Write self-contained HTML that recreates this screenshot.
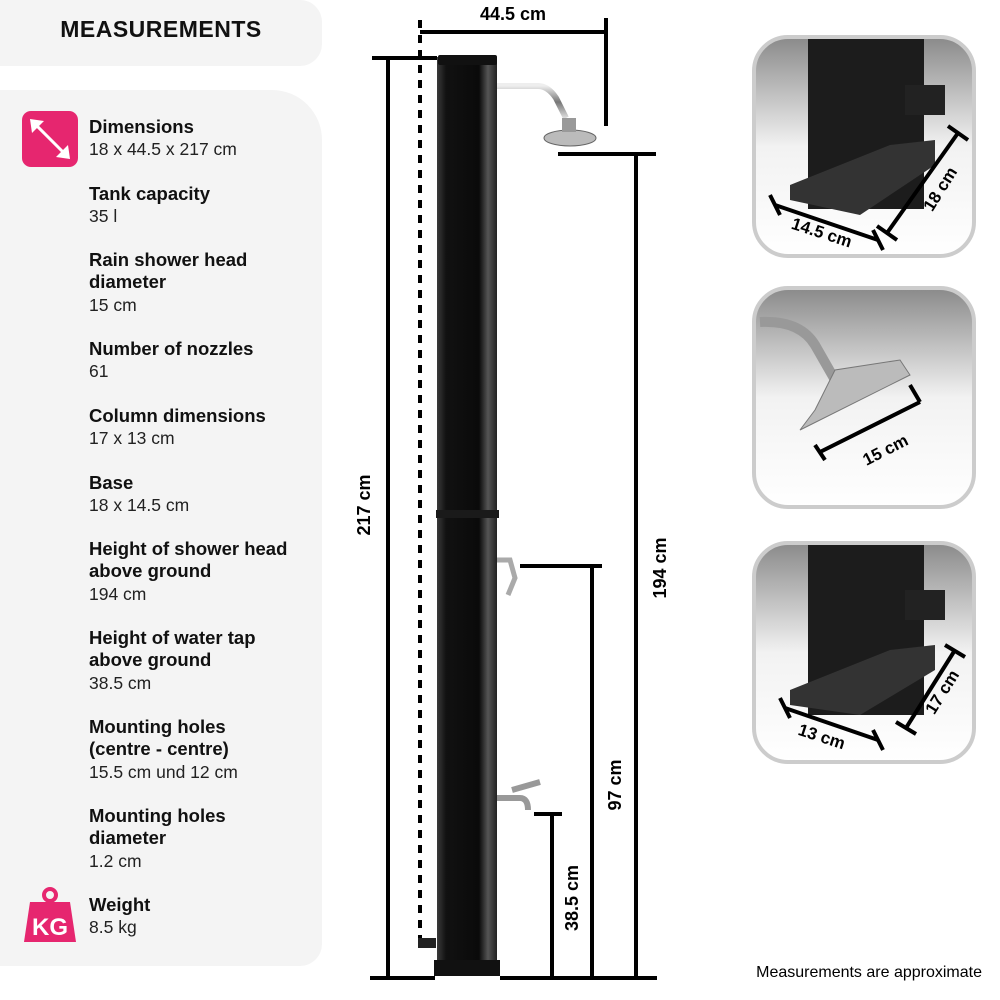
<!DOCTYPE html>
<html><head><meta charset="utf-8"><style>
body{margin:0;width:1000px;height:1000px;background:#fff;position:relative;overflow:hidden;font-family:"Liberation Sans",sans-serif;color:#111}
.it{position:absolute;left:89px;font-size:18px;line-height:22.4px}
.it b{display:block;font-weight:bold;font-size:18.5px}
.it span{display:block;font-size:17.5px;color:#222}
</style></head><body>
<div style="position:absolute;left:0;top:0;width:322px;height:66px;background:#f4f4f4;border-radius:0 22px 22px 0"></div>
<div style="position:absolute;left:0;top:0;width:322px;height:60px;text-align:center;line-height:58px;font-weight:900;font-size:23px;letter-spacing:0.5px">MEASUREMENTS</div>
<div style="position:absolute;left:0;top:90px;width:322px;height:876px;background:#f4f4f4;border-radius:0 50px 22px 0"></div>
<div style="position:absolute;left:22px;top:111px;width:56px;height:56px;background:#e6266f;border-radius:9px"></div>
<svg style="position:absolute;left:22px;top:111px" width="56" height="56"><line x1="12" y1="12" x2="44" y2="44" stroke="#fff" stroke-width="3"/><polygon points="8,8 22,10 10,22" fill="#fff"/><polygon points="48,48 34,46 46,34" fill="#fff"/></svg>
<svg style="position:absolute;left:22px;top:886px" width="56" height="60"><circle cx="28" cy="9" r="6" fill="none" stroke="#e6266f" stroke-width="4"/><path d="M8 16 H48 L54 56 H2 Z" fill="#e6266f"/><text x="28" y="49" text-anchor="middle" font-family="Liberation Sans" font-weight="bold" font-size="24" fill="#fff">KG</text></svg>
<div class="it" style="top:116px"><b>Dimensions</b><span>18 x 44.5 x 217 cm</span></div>
<div class="it" style="top:183px"><b>Tank capacity</b><span>35 l</span></div>
<div class="it" style="top:249px"><b>Rain shower head<br>diameter</b><span>15 cm</span></div>
<div class="it" style="top:338px"><b>Number of nozzles</b><span>61</span></div>
<div class="it" style="top:405px"><b>Column dimensions</b><span>17 x 13 cm</span></div>
<div class="it" style="top:472px"><b>Base</b><span>18 x 14.5 cm</span></div>
<div class="it" style="top:538px"><b>Height of shower head<br>above ground</b><span>194 cm</span></div>
<div class="it" style="top:627px"><b>Height of water tap<br>above ground</b><span>38.5 cm</span></div>
<div class="it" style="top:716px"><b>Mounting holes<br>(centre - centre)</b><span>15.5 cm und 12 cm</span></div>
<div class="it" style="top:805px"><b>Mounting holes<br>diameter</b><span>1.2 cm</span></div>
<div class="it" style="top:894px"><b>Weight</b><span>8.5 kg</span></div>

<svg style="position:absolute;left:0;top:0" width="1000" height="1000" font-family="Liberation Sans" font-weight="bold">
<defs>
<linearGradient id="col" x1="0" x2="1"><stop offset="0" stop-color="#3a3a3a"/><stop offset="0.15" stop-color="#111"/><stop offset="0.7" stop-color="#0a0a0a"/><stop offset="0.85" stop-color="#555"/><stop offset="1" stop-color="#222"/></linearGradient>
<linearGradient id="bg" x1="0" y1="0" x2="0" y2="1"><stop offset="0" stop-color="#8a8a8a"/><stop offset="0.5" stop-color="#f2f2f2"/><stop offset="1" stop-color="#fff"/></linearGradient>
<linearGradient id="cr" x1="0" y1="0" x2="0" y2="1"><stop offset="0" stop-color="#eee"/><stop offset="0.5" stop-color="#777"/><stop offset="1" stop-color="#ddd"/></linearGradient>
</defs>
<g stroke="#000" stroke-width="4" fill="none">
<line x1="372" y1="58" x2="437" y2="58"/><line x1="388" y1="58" x2="388" y2="978"/>
<line x1="370" y1="978" x2="435" y2="978"/><line x1="500" y1="978" x2="657" y2="978"/>
<line x1="420" y1="20" x2="420" y2="940" stroke-dasharray="8,7"/>
<line x1="420" y1="32" x2="606" y2="32"/><line x1="606" y1="18" x2="606" y2="126"/>
<line x1="558" y1="154" x2="656" y2="154"/><line x1="636" y1="154" x2="636" y2="978"/>
<line x1="520" y1="566" x2="602" y2="566"/><line x1="592" y1="566" x2="592" y2="978"/>
<line x1="534" y1="814" x2="562" y2="814"/><line x1="552" y1="814" x2="552" y2="978"/>
</g>
<rect x="437" y="57" width="60" height="918" fill="url(#col)"/>
<rect x="438" y="55" width="59" height="10" rx="2" fill="#111"/>
<rect x="436" y="510" width="63" height="8" fill="#1a1a1a"/>
<rect x="434" y="960" width="66" height="16" fill="#111"/>
<path d="M497 86 H538 Q548 86 556 98 L566 118" stroke="url(#cr)" stroke-width="6" fill="none"/>
<ellipse cx="570" cy="138" rx="26" ry="8" fill="#bbb" stroke="#666"/><rect x="562" y="118" width="14" height="14" fill="#999"/>
<path d="M497 560 L510 560 L515 578 L508 595" stroke="#aaa" stroke-width="5" fill="none"/>
<path d="M497 798 H520 Q528 798 528 810 M512 790 L540 782" stroke="#999" stroke-width="6" fill="none"/>
<rect x="418" y="938" width="18" height="10" fill="#222"/>
<text transform="translate(370,505) rotate(-90)" text-anchor="middle" font-size="18">217 cm</text>
<text transform="translate(666,568) rotate(-90)" text-anchor="middle" font-size="18">194 cm</text>
<text transform="translate(621,785) rotate(-90)" text-anchor="middle" font-size="18">97 cm</text>
<text transform="translate(578,898) rotate(-90)" text-anchor="middle" font-size="18">38.5 cm</text>
<text x="513" y="20" text-anchor="middle" font-size="18">44.5 cm</text>
<g stroke="#ccc" stroke-width="4" fill="url(#bg)">
<rect x="754" y="37" width="220" height="219" rx="34"/>
<rect x="754" y="288" width="220" height="219" rx="34"/>
<rect x="754" y="543" width="220" height="219" rx="34"/>
</g>
<rect x="808" y="39" width="116" height="170" fill="#1c1c1c"/>
<polygon points="790,185 890,145 935,140 935,165 860,215 790,200" fill="#333"/>
<rect x="808" y="545" width="116" height="170" fill="#1c1c1c"/>
<polygon points="790,690 890,650 935,645 935,670 860,715 790,705" fill="#333"/>
<rect x="905" y="85" width="40" height="30" fill="#222"/>
<rect x="905" y="590" width="40" height="30" fill="#222"/>
<path d="M760 322 Q800 320 815 345 L835 380" stroke="#999" stroke-width="10" fill="none"/>
<polygon points="800,430 910,375 900,360 835,370 815,410" fill="#bbb" stroke="#777"/>
<g stroke="#000" stroke-width="4" fill="none">
<line x1="775" y1="205" x2="878" y2="240"/><line x1="770" y1="195" x2="780" y2="215"/><line x1="873" y1="230" x2="883" y2="250"/>
<line x1="887" y1="233" x2="958" y2="133"/><line x1="948" y1="126" x2="968" y2="140"/><line x1="877" y1="226" x2="897" y2="240"/>
<line x1="820" y1="452" x2="920" y2="402"/><line x1="815" y1="445" x2="825" y2="460"/><line x1="910" y1="385" x2="920" y2="402"/>
<line x1="785" y1="708" x2="878" y2="740"/><line x1="780" y1="698" x2="790" y2="718"/><line x1="873" y1="730" x2="883" y2="750"/>
<line x1="906" y1="728" x2="955" y2="650"/><line x1="945" y1="645" x2="965" y2="657"/><line x1="896" y1="722" x2="916" y2="734"/>
</g>
<text transform="translate(820,238) rotate(18)" text-anchor="middle" font-size="17">14.5 cm</text>
<text transform="translate(945,192) rotate(-58)" text-anchor="middle" font-size="17">18 cm</text>
<text transform="translate(888,455) rotate(-27)" text-anchor="middle" font-size="17">15 cm</text>
<text transform="translate(820,742) rotate(18)" text-anchor="middle" font-size="17">13 cm</text>
<text transform="translate(947,695) rotate(-58)" text-anchor="middle" font-size="17">17 cm</text>
<text x="982" y="977" text-anchor="end" font-size="16" font-weight="normal">Measurements are approximate</text>
</svg>
</body></html>
